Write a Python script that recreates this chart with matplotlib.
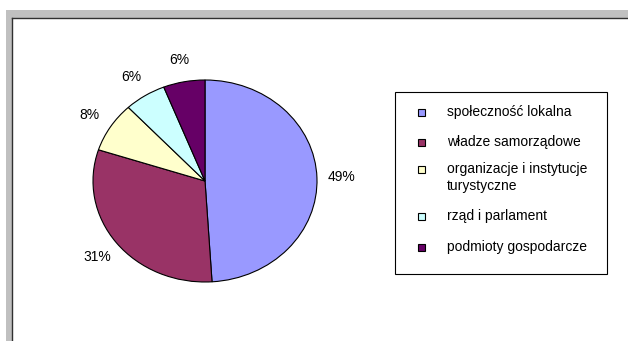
import matplotlib.pyplot as plt
from matplotlib.patches import Rectangle

plt.rcParams['font.family'] = ['Liberation Sans', 'DejaVu Sans']

categories = ['społeczność lokalna', 'władze samorządowe',
              'organizacje i instytucje\nturystyczne', 'rząd i parlament',
              'podmioty gospodarcze']
shares = [49, 31, 8, 6, 6]
colors = ['#9999FF', '#993366', '#FFFFCC', '#CCFFFF', '#660066']

W, H = 628, 341
fig = plt.figure(figsize=(W / 100, H / 100), dpi=100)

def px(x0, y0, w, h):
    # pixel box (top-left origin) -> figure fraction
    return [x0 / W, 1 - (y0 + h) / H, w / W, h / H]

# window frame: grey band on top and left, dark inner edge
frame = fig.add_axes([0, 0, 1, 1])
frame.set_xlim(0, W)
frame.set_ylim(H, 0)
frame.axis('off')
frame.add_patch(Rectangle((6, 10), W, 8, color='#C0C0C0', lw=0))
frame.add_patch(Rectangle((6, 10), 5.5, H, color='#C0C0C0', lw=0))
frame.plot([11.8, W], [18, 18], color='#303030', lw=1.0)
frame.plot([11.8, 11.8], [18, H], color='#303030', lw=1.0)

# pie, slightly wider than tall
cx, cy, rx, ry = 205, 181, 112, 101
ax = fig.add_axes(px(cx - rx, cy - ry, 2 * rx, 2 * ry))
wedges, _, autotexts = ax.pie(shares, colors=colors, startangle=90, counterclock=False,
                              autopct='%.0f%%', pctdistance=1.22,
                              wedgeprops=dict(edgecolor='black', linewidth=0.8),
                              textprops=dict(fontsize=10, color='black'))
ax.set_aspect('auto')
ax.set_xlim(-1, 1)
ax.set_ylim(-1, 1)

# legend box drawn by hand so the rows sit where they should
frame.add_patch(Rectangle((395, 92), 212, 182, facecolor='white',
                          edgecolor='black', lw=0.8))
rows_y = [112, 142, 169, 216, 247]
for label, col, y in zip(categories, colors, rows_y):
    frame.add_patch(Rectangle((418, y - 3.5), 7, 7, facecolor=col,
                              edgecolor='black', lw=0.8))
    for k, line in enumerate(label.split('\n')):
        frame.text(447, y + 4 + 17 * k, line, fontsize=10, va='baseline', ha='left')

fig.savefig('out.png', dpi=100)
